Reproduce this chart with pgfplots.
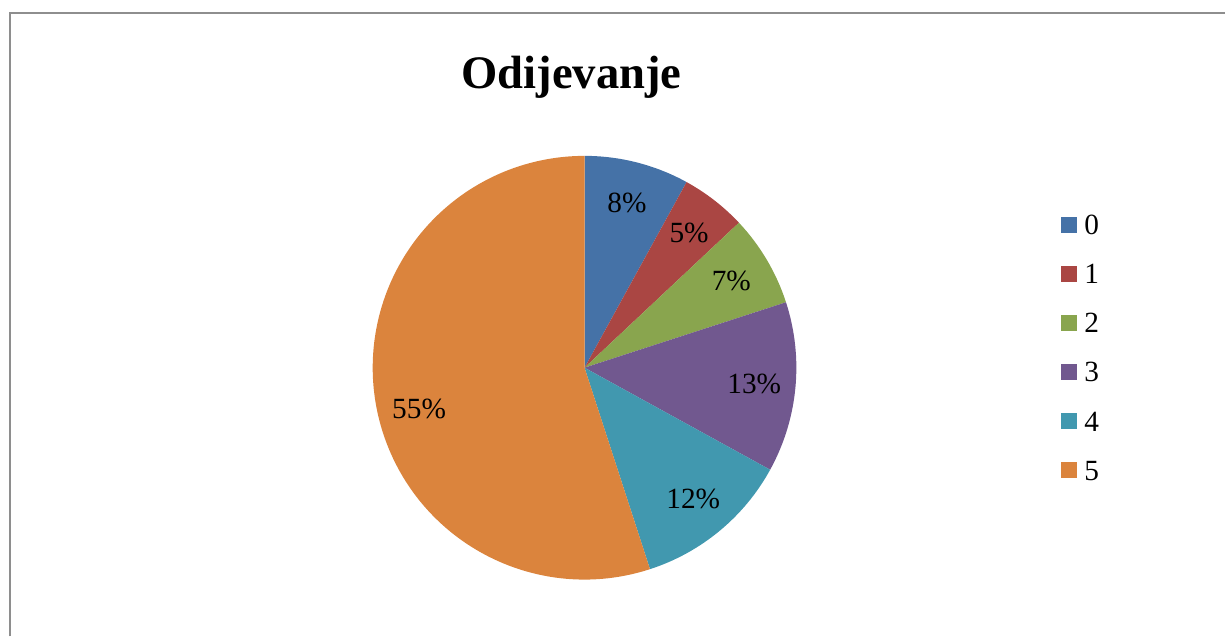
\documentclass[border=0pt]{standalone}
\usepackage{fontspec}
\setmainfont{Liberation Serif}
\usepackage{pgfplots}
\usepackage{pgfplotstable}
\pgfplotsset{compat=1.18}

\definecolor{pie0}{HTML}{4572A7}
\definecolor{pie1}{HTML}{AA4643}
\definecolor{pie2}{HTML}{89A54E}
\definecolor{pie3}{HTML}{71588F}
\definecolor{pie4}{HTML}{4198AF}
\definecolor{pie5}{HTML}{DB843D}
\definecolor{framegray}{HTML}{8E8E8E}

% share in percent, dA = small shift of the label angle
\pgfplotstableread{
cat share dA
0 8 0
1 5 0
2 7 0
3 13 0
4 12 0
5 55 5
}\piedata

\begin{document}
\begin{tikzpicture}
\begin{axis}[
  x=0.75pt, y=0.75pt, scale only axis,
  xmin=0, xmax=1226, ymin=0, ymax=637, y dir=reverse,
  hide axis, clip=false,
]
\addplot[draw=none] coordinates {(0,0) (1226,637)};
\pgfplotsextra{
  \draw[line width=1.5pt, framegray, line join=miter]
    (axis cs:10,637) -- (axis cs:10,13.5) -- (axis cs:1226,13.5);
  \node[font=\bfseries\fontsize{35}{40}\selectfont, anchor=base, inner sep=0]
    at (axis cs:572,89) {Odijevanje};
  \pgfplotstablegetrowsof{\piedata}
  \pgfmathtruncatemacro\lastrow{\pgfplotsretval-1}
  \xdef\startA{90}
  \foreach \i in {0,...,\lastrow}{
    \pgfplotstablegetelem{\i}{share}\of\piedata
    \let\val\pgfplotsretval
    \pgfplotstablegetelem{\i}{cat}\of\piedata
    \let\cat\pgfplotsretval
    \pgfplotstablegetelem{\i}{dA}\of\piedata
    \let\dA\pgfplotsretval
    \pgfmathsetmacro\endA{\startA-3.6*\val}
    \pgfmathsetmacro\midA{(\startA+\endA)/2+\dA}
    \fill[fill=pie\i] (axis cs:585,368) -- ++(\startA:159pt)
      arc[start angle=\startA, end angle=\endA, radius=159pt] -- cycle;
    \node[font=\fontsize{22}{26}\selectfont, inner sep=0]
      at ([shift={(\midA:128pt)}]axis cs:585,368) {\val\%};
    % legend entry
    \pgfmathsetmacro\ytop{217+49.1*\i}
    \pgfmathsetmacro\ybot{233+49.1*\i}
    \pgfmathsetmacro\ybase{235+49.1*\i}
    \fill[fill=pie\i] (axis cs:1062,\ytop) rectangle (axis cs:1078,\ybot);
    \node[font=\fontsize{22}{26}\selectfont, anchor=base west, inner sep=0]
      at (axis cs:1085,\ybase) {\cat};
    \xdef\startA{\endA}
  }
}
\end{axis}
\end{tikzpicture}
\end{document}
